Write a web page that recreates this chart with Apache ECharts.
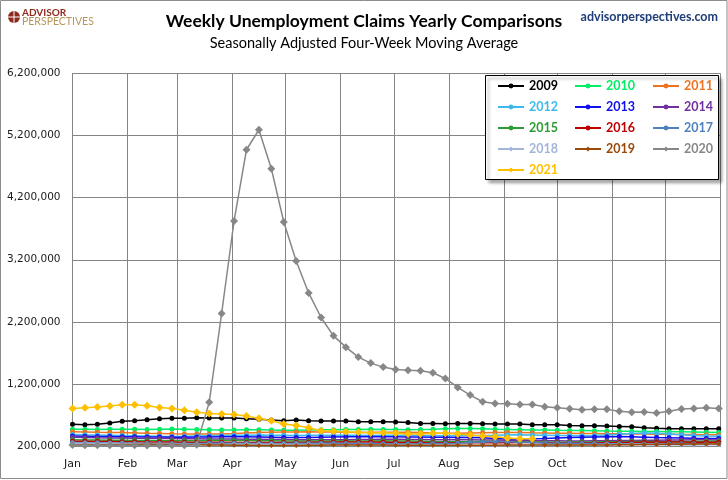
<!DOCTYPE html>
<html>
<head>
<meta charset="utf-8">
<script src="https://cdn.jsdelivr.net/npm/echarts@6/dist/echarts.min.js"></script>
<style>
    html, body { margin: 0; padding: 0; background: #fff; }
    #chart { width: 728px; height: 480px; }
</style>
</head>
<body>
<div id="chart"></div>
<script>
// week positions on a common calendar year (each year plotted on the same axis)
var weekDates = ['01-01','01-08','01-15','01-22','01-29','02-05','02-12','02-19','02-26',
    '03-05','03-12','03-19','03-26','04-02','04-09','04-16','04-23','04-30','05-07','05-14',
    '05-21','05-28','06-04','06-11','06-18','06-25','07-02','07-09','07-16','07-23','07-30',
    '08-06','08-13','08-20','08-27','09-03','09-10','09-17','09-24','10-01','10-08','10-15',
    '10-22','10-29','11-05','11-12','11-19','11-26','12-03','12-10','12-17','12-24','12-31'];
var monthNames = ['Jan','Feb','Mar','Apr','May','Jun','Jul','Aug','Sep','Oct','Nov','Dec'];
var yTicks = [200000, 6200000, 1000000]; // min, max, step

var years = ['2009','2010','2011','2012','2013','2014','2015','2016','2017','2018','2019','2020','2021'];
var colors = ['#000000','#00EE66','#EE7320','#3DB9EC','#1010EE','#7030A0','#2E9B33','#C00000','#4F81BD','#A3B6DA','#9A4A08','#878787','#FFC000'];

// thousands of claims, 4-week moving average
var y2009 = [549,543,549,570,597,607,624,640,645,645,656,650,650,650,640,629,618,607,618,607,602,602,602,591,591,591,586,580,564,564,559,564,564,559,554,554,554,543,543,543,532,527,527,522,516,511,495,484,479,479,479,479,479];
var y2010 = [470,468,466,468,470,468,466,470,472,468,464,460,458,456,460,462,458,454,452,456,460,462,464,466,468,466,464,462,464,470,478,482,480,476,470,466,462,458,456,452,450,448,444,440,438,436,434,432,430,428,424,420,416];
var y2011 = [428,425,420,418,416,410,404,400,396,394,392,392,394,400,410,418,422,424,426,428,426,424,420,418,420,422,422,420,416,410,406,404,408,412,416,418,416,412,410,406,404,402,400,398,396,394,392,390,388,386,384,382,380];
var y2012 = [385,380,376,372,368,364,360,356,354,356,360,364,368,372,374,376,374,372,370,372,374,374,374,372,370,372,374,372,370,368,366,366,368,370,372,376,380,378,374,370,368,366,370,376,388,402,410,404,392,380,370,362,358];
var y2013 = [362,358,354,352,350,348,346,344,342,342,344,346,348,350,348,346,342,338,336,338,342,346,348,350,352,350,348,346,344,342,340,338,336,332,322,314,310,316,322,330,338,342,346,350,352,348,342,336,332,328,324,322,320];
var y2014 = [340,336,332,330,328,326,324,322,320,318,316,314,312,312,310,308,306,304,302,300,300,300,302,304,306,308,308,306,304,302,300,300,300,298,296,294,290,288,286,284,282,282,284,286,288,290,292,294,296,298,300,300,298];
var y2015 = [300,298,296,294,292,290,288,286,284,284,286,288,290,290,288,286,284,282,280,280,280,280,280,280,282,284,282,280,276,272,270,268,270,272,272,270,268,266,264,262,262,264,266,268,270,272,272,270,270,272,274,276,278];
var y2016 = [278,276,274,272,270,268,266,264,264,262,260,260,260,258,258,256,256,256,258,260,262,264,266,266,264,262,260,258,256,254,254,252,252,252,252,254,256,256,254,252,250,250,252,254,256,258,260,262,264,264,262,260,260];
var y2017 = [256,254,252,250,248,246,244,242,240,240,242,244,246,246,244,242,242,242,244,246,246,244,242,240,238,236,236,236,238,240,242,246,256,266,272,268,262,256,250,246,244,242,240,238,236,234,234,234,236,236,236,234,232];
var y2018 = [246,244,242,240,238,236,234,232,230,228,226,226,226,228,230,230,228,226,224,224,224,222,222,222,222,222,220,218,216,214,214,212,210,210,210,212,212,212,214,216,218,220,222,224,224,224,224,222,220,218,218,220,222];
var y2019 = [222,220,220,222,224,226,228,226,224,222,220,218,216,214,212,210,208,208,210,212,214,216,218,218,218,216,214,214,214,212,212,212,212,212,214,216,218,218,218,218,216,216,216,218,220,222,224,226,228,230,232,234,234];
var y2020 = [216,214,212,212,214,212,210,210,212,214,222,903,2334,3824,4972,5294,4667,3808,3180,2666,2270,1974,1792,1632,1535,1471,1433,1422,1412,1380,1288,1144,1020,913,886,881,870,870,833,817,800,784,790,790,758,742,747,731,758,795,806,817,806];
var y2021 = [806,817,827,843,865,865,849,822,806,774,742,725,715,709,683,645,607,554,532,495,447,436,431,420,409,415,404,393,393,404,404,393,377,361,350,329,318,318];

var seriesValues = [y2009,y2010,y2011,y2012,y2013,y2014,y2015,y2016,y2017,y2018,y2019,y2020,y2021];

var legendColumns = [
    ['2009','2012','2015','2018','2021'],
    ['2010','2013','2016','2019'],
    ['2011','2014','2017','2020']
];
var legendLeft = [497, 574, 652];

var myChart = echarts.init(document.getElementById('chart'));

var series = [];
for (var i = 0; i < years.length; i++) {
    var vals = seriesValues[i];
    var data = [];
    for (var j = 0; j < vals.length; j++) {
        data.push(['2021-' + weekDates[j], vals[j] * 1000]);
    }
    var big = (years[i] === '2020' || years[i] === '2021');
    series.push({
        name: years[i],
        type: 'line',
        data: data,
        symbol: (i >= 9) ? 'diamond' : 'circle',
        symbolSize: big ? 8 : 5,
        showAllSymbol: true,
        color: colors[i],
        lineStyle: { width: 1.5, color: colors[i] },
        itemStyle: { color: colors[i] },
        emphasis: { disabled: true },
        z: 2 + i
    });
}

var legends = [];
for (var c = 0; c < legendColumns.length; c++) {
    var items = [];
    for (var k = 0; k < legendColumns[c].length; k++) {
        var name = legendColumns[c][k];
        items.push({ name: name, textStyle: { color: colors[years.indexOf(name)] } });
    }
    legends.push({
        data: items,
        orient: 'vertical',
        left: legendLeft[c],
        top: 79,
        padding: 0,
        itemGap: 7,
        itemWidth: 26,
        itemHeight: 6,
        selectedMode: false,
        z: 20,
        textStyle: { fontFamily: 'Lato', fontWeight: 'bold', fontSize: 12.5, lineHeight: 14 }
    });
}

var gridColor = '#858585';

option = {
    animation: false,
    backgroundColor: '#ffffff',
    title: [
        {
            text: 'Weekly Unemployment Claims Yearly Comparisons',
            left: 'center', top: 12, padding: 0,
            textStyle: { fontFamily: 'Lato', fontWeight: 'bold', fontSize: 17.5, color: '#000' }
        },
        {
            text: 'Seasonally Adjusted Four-Week Moving Average',
            left: 'center', top: 36, padding: 0,
            textStyle: { fontFamily: 'Lato', fontWeight: 'normal', fontSize: 14.5, color: '#000' }
        },
        {
            text: 'advisorperspectives.com',
            right: 10, top: 10, padding: 0,
            textStyle: { fontFamily: 'Lato', fontWeight: 'bold', fontSize: 12.5, color: '#1F3E78' }
        }
    ],
    legend: legends,
    grid: { left: 72.5, right: 7.5, top: 73.5, bottom: 34, containLabel: false },
    xAxis: {
        type: 'time',
        min: '2021-01-01',
        max: '2022-01-01',
        splitNumber: 12,
        minInterval: 28 * 86400000,
        maxInterval: 31 * 86400000,
        axisLine: { show: true, lineStyle: { color: gridColor } },
        axisTick: { show: false },
        splitLine: { show: true, lineStyle: { color: gridColor, width: 1 } },
        axisLabel: {
            margin: 13,
            color: '#1a1a1a',
            fontFamily: 'DejaVu Sans',
            fontSize: 11,
            hideOverlap: false,
            formatter: function (value) {
                var d = new Date(value);
                if (d.getFullYear() !== 2021) return '';
                return monthNames[d.getMonth()];
            }
        }
    },
    yAxis: {
        type: 'value',
        min: yTicks[0],
        max: yTicks[1],
        interval: yTicks[2],
        axisLine: { show: true, lineStyle: { color: gridColor } },
        axisTick: { show: false },
        splitLine: { show: true, lineStyle: { color: gridColor, width: 1 } },
        axisLabel: {
            margin: 12,
            color: '#1a1a1a',
            fontFamily: 'DejaVu Sans',
            fontSize: 10.5,
            formatter: function (v) { return v.toLocaleString('en-US'); }
        }
    },
    graphic: [
        // outer frame
        { type: 'rect', shape: { x: 0.5, y: 0.5, width: 726.5, height: 478 }, style: { fill: 'none', stroke: '#8c8c8c', lineWidth: 1 }, z: 100 },
        // legend box with shadow
        { type: 'rect', shape: { x: 485.5, y: 75.5, width: 233, height: 104 },
          style: { fill: '#fff', stroke: '#000', lineWidth: 1, shadowBlur: 3, shadowOffsetX: 3, shadowOffsetY: 3, shadowColor: 'rgba(0,0,0,0.35)' }, z: 10 },
        // logo
        { type: 'circle', shape: { cx: 14, cy: 17, r: 6 }, style: { fill: '#8E2A1E' }, z: 50 },
        { type: 'line', shape: { x1: 14, y1: 10, x2: 14, y2: 24 }, style: { stroke: '#fff', lineWidth: 1 }, z: 51 },
        { type: 'line', shape: { x1: 7, y1: 17, x2: 21, y2: 17 }, style: { stroke: '#fff', lineWidth: 1 }, z: 51 },
        { type: 'text', x: 22, y: 8, style: { text: 'ADVISOR', fill: '#8E2A1E', font: 'bold 10px Lato' }, z: 50 },
        { type: 'text', x: 22, y: 16, style: { text: 'PERSPECTIVES', fill: '#B8975E', font: '10.5px Lato' }, z: 50 }
    ],
    series: series
};
myChart.setOption(option);
</script>
</body>
</html>
